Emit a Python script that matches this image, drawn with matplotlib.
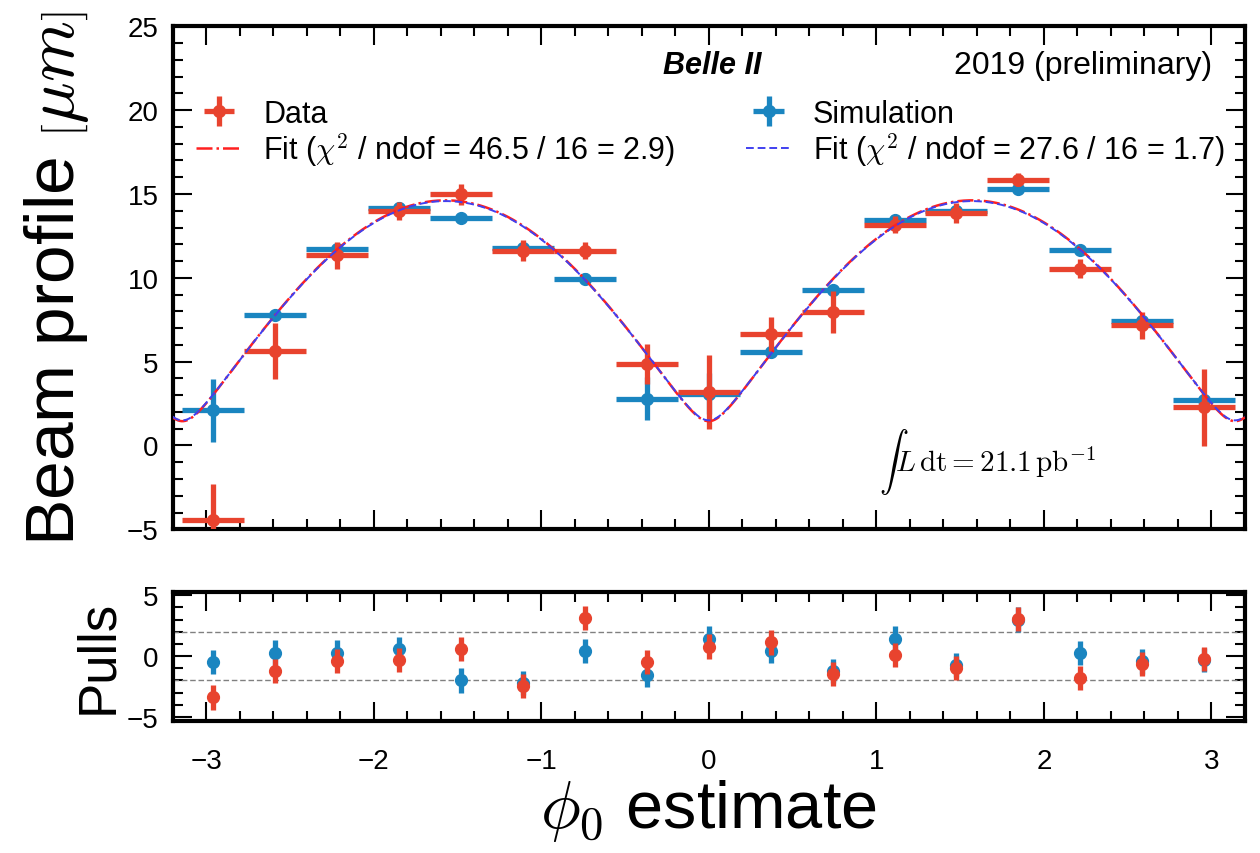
import numpy as np
import matplotlib
matplotlib.use("Agg")
import matplotlib.pyplot as plt
from matplotlib.ticker import MultipleLocator

plt.rcParams['font.family'] = ['Liberation Sans', 'DejaVu Sans']
plt.rcParams['mathtext.fontset'] = 'cm'

# ---- data ----
phi0 = [-2.957, -2.587, -2.218, -1.848, -1.478, -1.109, -0.739, -0.370, 0.0,
        0.370, 0.739, 1.109, 1.478, 1.848, 2.218, 2.587, 2.957]
bin_half_width = 0.1848

data_vals = [-4.47, 5.66, 11.35, 13.97, 14.97, 11.63, 11.63, 4.85, 3.2,
             6.66, 7.97, 13.18, 13.87, 15.86, 10.55, 7.18, 2.29]
data_errs = [2.2, 1.67, 0.8, 0.55, 0.6, 0.6, 0.5, 1.2, 2.2,
             1.0, 1.25, 0.5, 0.6, 0.4, 0.55, 0.8, 2.3]

sim_vals = [2.09, 7.77, 11.69, 14.17, 13.58, 11.79, 9.96, 2.80, 3.1,
            5.59, 9.26, 13.44, 14.0, 15.3, 11.65, 7.42, 2.74]
sim_errs = [1.9, 0.25, 0.3, 0.3, 0.25, 0.3, 0.3, 1.3, 1.2,
            0.3, 0.3, 0.3, 0.3, 0.3, 0.3, 0.3, 0.3]

pull_data = [-3.39, -1.24, -0.38, -0.30, 0.59, -2.45, 3.15, -0.48, 0.78,
             1.13, -1.45, 0.10, -0.97, 3.06, -1.77, -0.65, -0.22]
pull_sim = [-0.48, 0.30, 0.30, 0.59, -1.99, -2.2, 0.43, -1.56, 1.45,
            0.43, -1.24, 1.45, -0.70, 3.0, 0.24, -0.43, -0.30]
pull_err = 1.0

# fit model parameters: sqrt(c^2 + A^2 sin^2(phi))
fit_data_c, fit_data_A = 1.45, 14.55
fit_sim_c, fit_sim_A = 1.50, 14.50

label_data = "Data"
label_sim = "Simulation"
label_fit_data = r"Fit ($\chi^2$ / ndof = 46.5 / 16 = 2.9)"
label_fit_sim = r"Fit ($\chi^2$ / ndof = 27.6 / 16 = 1.7)"

red = '#E8432E'
blue = '#1A85C0'
fit_red = '#FF2020'
fit_blue = '#4040F0'

fig = plt.figure(figsize=(12.6, 8.54), dpi=100)
ax = fig.add_axes([0.137, 0.379, 0.851, 0.589])
axp = fig.add_axes([0.137, 0.155, 0.851, 0.151])

xlim = (-3.2, 3.2)
xs = np.linspace(xlim[0], xlim[1], 600)

eb_kw = dict(fmt='o', markersize=8.5, elinewidth=3.8, capsize=0)
eb_sim = ax.errorbar(phi0, sim_vals, yerr=sim_errs, xerr=bin_half_width,
                     color=blue, zorder=2, **eb_kw)
eb_data = ax.errorbar(phi0, data_vals, yerr=data_errs, xerr=bin_half_width,
                      color=red, zorder=3, **eb_kw)
ln_data, = ax.plot(xs, np.sqrt(fit_data_c**2 + fit_data_A**2 * np.sin(xs)**2),
                   color=fit_red, ls='-.', lw=1.8, zorder=4)
ln_sim, = ax.plot(xs, np.sqrt(fit_sim_c**2 + fit_sim_A**2 * np.sin(xs)**2),
                  color=fit_blue, ls=(0, (4, 2)), lw=1.4, zorder=5)

ax.set_xlim(*xlim)
ax.set_ylim(-5, 25)
ax.set_ylabel(r"Beam profile $\left[\mu m\right]$", fontsize=50)
ax.yaxis.set_label_coords(-0.076, 0.5)

leg = ax.legend([eb_data, ln_data, eb_sim, ln_sim],
                [label_data, label_fit_data, label_sim, label_fit_sim],
                ncol=2, loc='upper left', bbox_to_anchor=(0.022, 0.856),
                frameon=False, fontsize=22, handlelength=1.5,
                handletextpad=0.7, columnspacing=2.3, labelspacing=0.05,
                borderpad=0, borderaxespad=0)

ax.text(0.549, 0.924, "Belle II", transform=ax.transAxes, ha='right', va='center',
        fontsize=22, fontweight='bold', fontstyle='italic')
ax.text(0.969, 0.924, "2019 (preliminary)", transform=ax.transAxes, ha='right',
        va='center', fontsize=23)
ax.text(0.76, 0.135, r"$\int L\,\mathrm{dt} = 21.1\,\mathrm{pb}^{-1}$",
        transform=ax.transAxes, ha='center', va='center', fontsize=21)

# pulls
axp.axhline(2, color='gray', ls=(0, (4, 2)), lw=1)
axp.axhline(-2, color='gray', ls=(0, (4, 2)), lw=1)
pk = dict(fmt='o', markersize=8.5, elinewidth=3.8, capsize=0)
axp.errorbar(phi0, pull_sim, yerr=pull_err, color=blue, zorder=2, **pk)
axp.errorbar(phi0, pull_data, yerr=pull_err, color=red, zorder=3, **pk)
axp.set_xlim(*xlim)
axp.set_ylim(-5.3, 5.3)
axp.set_ylabel("Pulls", fontsize=38)
axp.yaxis.set_label_coords(-0.046, 0.5)
axp.set_xlabel(r"$\phi_0$ estimate", fontsize=48, labelpad=2)

for a in (ax, axp):
    for s in a.spines.values():
        s.set_linewidth(3)
    a.xaxis.set_major_locator(MultipleLocator(1))
    a.xaxis.set_minor_locator(MultipleLocator(0.2))
    a.yaxis.set_major_locator(MultipleLocator(5))
    a.yaxis.set_minor_locator(MultipleLocator(1))
    a.tick_params(which='both', direction='in', top=True, right=True,
                  labelsize=20, width=1.5)
    a.tick_params(which='major', length=14, pad=10)
    a.tick_params(which='minor', length=7)
ax.tick_params(labelbottom=False)
axp.tick_params(axis='x', which='major', pad=20)

fig.savefig("out.png", dpi=100)
